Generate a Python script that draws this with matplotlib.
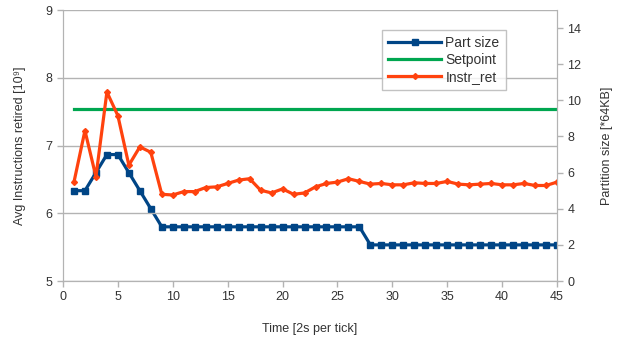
import matplotlib
matplotlib.use('Agg')
import matplotlib.pyplot as plt

plt.rcParams['font.family'] = ['Liberation Sans', 'DejaVu Sans']

ticks = list(range(1, 46))
part_size = [5, 5, 6, 7, 7, 6, 5, 4] + [3] * 19 + [2] * 18
setpoint = [9.5] * 45
instr_ret = [6.46, 7.22, 6.54, 7.79, 7.44, 6.71, 6.98, 6.90, 6.28, 6.27,
             6.32, 6.32, 6.38, 6.39, 6.44, 6.49, 6.51, 6.34, 6.30, 6.36,
             6.28, 6.30, 6.39, 6.44, 6.46, 6.51, 6.47, 6.43, 6.44, 6.42,
             6.42, 6.45, 6.44, 6.44, 6.47, 6.43, 6.42, 6.43, 6.44, 6.42,
             6.42, 6.44, 6.41, 6.41, 6.46]

blue = '#004586'
green = '#00a650'
orange = '#ff420e'
gray = '#b3b3b3'
txt = '#333333'

fig = plt.figure(figsize=(6.28, 3.39), dpi=100)
ax = fig.add_axes([0.1003, 0.171, 0.7867, 0.7995])
ax2 = ax.twinx()

# partition size and setpoint on the right axis
l1, = ax2.plot(ticks, part_size, color=blue, lw=2.3, marker='s', ms=4.5, label='Part size')
l2, = ax2.plot(ticks, setpoint, color=green, lw=2.3, label='Setpoint')
l3, = ax.plot(ticks, instr_ret, color=orange, lw=2.3, marker='D', ms=3, label='Instr_ret')

ax.set_zorder(ax2.get_zorder() + 1)
ax.patch.set_visible(False)

ax.set_xlim(0, 45)
ax.set_ylim(5, 9)
ax2.set_ylim(0, 15)
ax.set_xticks(range(0, 46, 5))
ax.set_yticks([5, 6, 7, 8, 9])
ax2.set_yticks(range(0, 15, 2))

ax.yaxis.grid(True, color=gray, lw=1)
ax.set_axisbelow(True)

for a in (ax, ax2):
    for s in a.spines.values():
        s.set_color(gray)
    a.spines['top'].set_visible(False)
    a.tick_params(colors=gray, labelcolor=txt, labelsize=9, length=4, width=1)

ax.set_xlabel('Time [2s per tick]', fontsize=9, color=txt, labelpad=14)
ax.set_ylabel('Avg Instructions retired [10⁹]', fontsize=9, color=txt, labelpad=14)
ax2.set_ylabel('Partition size [*64KB]', fontsize=9, color=txt, labelpad=14)

leg = ax.legend(handles=[l1, l2, l3], loc='upper left', bbox_to_anchor=(0.646, 0.926),
                borderaxespad=0, fontsize=10, frameon=True, fancybox=False,
                handlelength=3.8, borderpad=0.45, labelspacing=0.2, handletextpad=0.3)
leg.get_frame().set_edgecolor(gray)
leg.get_frame().set_linewidth(1)
for t in leg.get_texts():
    t.set_color(txt)

fig.savefig('out.png', dpi=100)
